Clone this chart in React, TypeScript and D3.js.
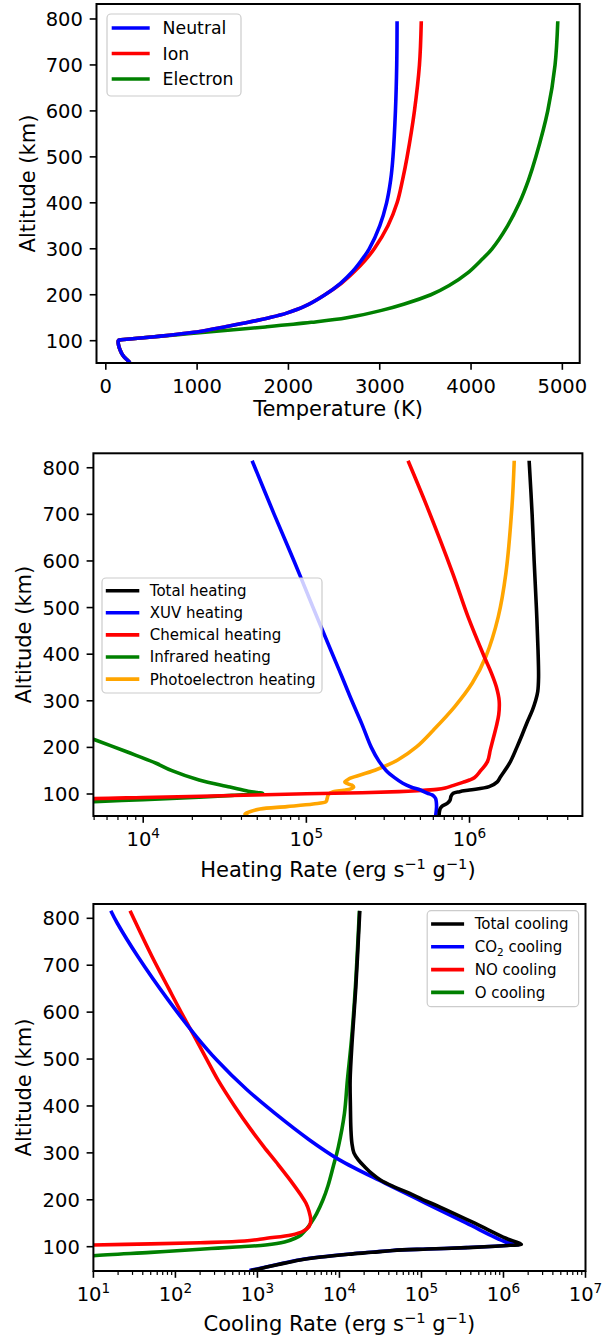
import * as React from 'react';
import * as d3 from 'd3';

type Pt = [number, number]; // [altitude (km), value]

// ---- panel 1: temperatures (K)
const neutralTemp: Pt[] = [
  [52, 265], [58, 235], [65, 200], [72, 175], [80, 156], [90, 140], [97, 135],
  [100, 137], [101.5, 150], [103, 230], [106, 380], [110, 600], [115, 830],
  [120, 1030], [130, 1300], [140, 1560], [150, 1790], [160, 1980], [175, 2180],
  [200, 2400], [225, 2570], [250, 2700], [275, 2800], [300, 2885], [350, 3000],
  [400, 3075], [450, 3120], [500, 3145], [600, 3172], [700, 3186], [795, 3190],
];
const ionTemp: Pt[] = [
  [52, 265], [58, 235], [65, 200], [72, 175], [80, 156], [90, 140], [97, 135],
  [100, 137], [101.5, 150], [103, 230], [106, 380], [110, 600], [115, 830],
  [120, 1030], [130, 1300], [140, 1560], [150, 1790], [160, 1980], [175, 2180],
  [200, 2400], [225, 2580], [250, 2720], [275, 2840], [300, 2940], [350, 3090],
  [400, 3190], [450, 3250], [500, 3300], [600, 3380], [700, 3435], [795, 3455],
];
const electronTemp: Pt[] = [
  [52, 265], [58, 235], [65, 200], [72, 175], [80, 156], [90, 140], [97, 135],
  [100, 137], [101.5, 150], [103, 230], [106, 380], [110, 610], [115, 900],
  [120, 1180], [130, 1750], [140, 2250], [150, 2640], [166, 3020], [180, 3270],
  [200, 3560], [220, 3760], [247, 3960], [275, 4110], [300, 4230], [350, 4400],
  [400, 4530], [450, 4630], [500, 4710], [600, 4840], [700, 4920], [795, 4950],
];

// ---- panel 2: heating rates (erg s-1 g-1)
const totalHeat: Pt[] = [
  [53, 6.5e5], [68, 6.6e5], [73, 6.75e5], [80, 7.3e5], [87, 7.6e5], [95, 7.7e5],
  [101.5, 7.95e5], [105, 8.7e5], [108.6, 1.0e6], [115.7, 1.32e6], [126, 1.48e6],
  [137, 1.55e6], [166, 1.76e6], [200, 1.95e6], [225, 2.09e6], [253, 2.25e6],
  [280, 2.43e6], [300, 2.54e6], [320, 2.62e6], [350, 2.65e6], [409, 2.63e6],
  [500, 2.57e6], [600, 2.49e6], [700, 2.42e6], [815, 2.32e6],
];
const xuvHeat: Pt[] = [
  [53, 6.2e5], [73, 6.28e5], [90, 6.2e5], [95, 6.05e5], [98, 5.9e5], [102, 5.5e5],
  [108.6, 5.0e5], [115, 4.37e5], [123, 3.9e5], [135, 3.47e5], [150, 3.09e5],
  [170, 2.79e5], [200, 2.5e5], [250, 2.19e5], [300, 1.9e5], [352, 1.65e5],
  [409, 1.41e5], [500, 1.1e5], [600, 8.4e4], [700, 6.35e4], [815, 4.65e4],
];
const chemHeat: Pt[] = [
  [80, 1e3], [90, 5e3], [92.4, 1e4], [96.2, 3e4], [100.4, 1e5], [102.8, 2.2e5],
  [105, 3.7e5], [107, 4.8e5], [110, 6.3e5], [113, 7.1e5], [118, 7.9e5],
  [125, 9.1e5], [130, 1.0e6], [135, 1.07e6], [150, 1.17e6], [170, 1.29e6],
  [194, 1.34e6], [220, 1.4e6], [245, 1.46e6], [270, 1.51e6], [300, 1.52e6],
  [330, 1.46e6], [360, 1.36e6], [395, 1.23e6], [480, 9.8e5], [573, 7.9e5],
  [716, 5.5e5], [815, 4.2e5],
];
const irHeat: Pt[] = [
  [76, 2e3], [83.5, 5e3], [88, 1.0e4], [93, 2.2e4], [97, 3.5e4], [100, 4.8e4],
  [101.5, 5.4e4], [103, 5.0e4], [106, 4.4e4], [115, 3.4e4], [130, 2.2e4],
  [150, 1.5e4], [166, 1.2e4], [190, 8e3], [217, 5e3], [240, 3.3e3],
];
const photoHeat: Pt[] = [
  [53, 4.4e4], [57, 4.2e4], [62, 4.5e4], [68, 5.2e4], [73, 7.6e4], [78.5, 1.1e5],
  [83.5, 1.32e5], [90, 1.34e5], [97.9, 1.36e5], [102, 1.4e5], [105, 1.46e5],
  [108, 1.7e5], [111, 1.87e5], [115, 1.95e5], [119, 1.9e5], [123, 1.76e5],
  [126, 1.72e5], [130, 1.78e5], [134, 1.86e5], [151, 2.63e5], [173, 3.63e5],
  [201, 4.73e5], [237, 6.0e5], [287, 8.1e5], [338, 1.04e6], [395, 1.26e6],
  [480, 1.5e6], [573, 1.67e6], [716, 1.82e6], [815, 1.88e6],
];

// ---- panel 3: cooling rates (erg s-1 g-1)
const totalCool: Pt[] = [
  [49, 8.3e2], [55, 1.2e3], [62, 1.8e3], [71.6, 3.3e3], [78, 6.0e3], [84, 1.3e4],
  [88, 2.5e4], [92, 4.5e4], [95, 1.2e5], [98, 3.6e5], [101, 8e5], [103, 1.2e6],
  [105, 1.65e6], [110, 1.42e6], [118, 1.07e6], [150, 4.47e5], [185, 1.66e5],
  [200, 1.05e5], [214, 7.1e4], [228, 4.57e4], [242, 3.16e4], [255, 2.51e4],
  [270, 2.04e4], [285, 1.7e4], [300, 1.5e4], [320, 1.42e4], [350, 1.38e4],
  [400, 1.36e4], [455, 1.35e4], [540, 1.43e4], [650, 1.58e4], [816, 1.77e4],
];
const co2Cool: Pt[] = [
  [49, 8.0e2], [55, 1.15e3], [62, 1.75e3], [71.6, 3.2e3], [78, 5.8e3], [84, 1.25e4],
  [88, 2.4e4], [92, 4.4e4], [95, 1.15e5], [98, 3.5e5], [101, 7.8e5], [103, 1.15e6],
  [105, 1.55e6], [110.7, 1.05e6], [150, 3.55e5], [192, 1.15e5], [235, 3.63e4],
  [285, 1.0e4], [328, 4.27e3], [384, 1.64e3], [435, 7.4e2], [498, 3.19e2],
  [548, 1.8e2], [626, 81.5], [718, 35], [790, 19.5], [816, 16.3],
];
const noCool: Pt[] = [
  [100, 3], [103.6, 10], [106, 50], [108.5, 200], [112, 700], [118, 1.3e3],
  [125, 2.6e3], [133, 3.6e3], [143, 4.27e3], [157, 4.47e3], [175, 4.27e3],
  [193, 3.9e3], [210, 3.39e3], [242, 2.51e3], [280, 1.7e3], [313, 1.2e3],
  [350, 8.3e2], [400, 5.25e2], [455, 3.31e2], [500, 2.4e2], [548, 1.71e2],
  [590, 1.26e2], [650, 83], [718, 52], [816, 28],
];
const oCool: Pt[] = [
  [75, 5], [80.8, 10], [88, 50], [94.4, 200], [97, 3.3e2], [100, 6.3e2],
  [103.6, 1.26e3], [110, 2.14e3], [118, 2.88e3], [125, 3.39e3], [136, 3.89e3],
  [150, 4.47e3], [170, 5.25e3], [200, 6.3e3], [230, 7.25e3], [271, 8.4e3],
  [313, 9.7e3], [384, 1.15e4], [455, 1.25e4], [540, 1.4e4], [650, 1.56e4],
  [816, 1.75e4],
];

// ---- ticks
const altTicks = [100, 200, 300, 400, 500, 600, 700, 800];
const tempTicks = [0, 1000, 2000, 3000, 4000, 5000];
const heatTicks = [1e4, 1e5, 1e6];
const coolTicks = [1e1, 1e2, 1e3, 1e4, 1e5, 1e6, 1e7];

const FONT = '"DejaVu Sans", sans-serif';
const TICK_FS = 19.5;
const LABEL_FS = 21;
const SUP_FS = 13.6;

interface Series { label: React.ReactNode; color: string; data: Pt[] }
interface LegendCfg {
  x: number; y: number; w: number; h: number;
  row0: number; rowStep: number; lineX: number; lineLen: number; textX: number; fs: number;
}
interface PanelProps {
  id: string;
  left: number; top: number; right: number; bottom: number;
  log: boolean;
  xDomain: [number, number];
  yDomain: [number, number];
  xTicks: number[];
  xLabel: React.ReactNode;
  xLabelDy: number;
  series: Series[];
  legend: LegendCfg;
}

function minorTicks(dom: [number, number]) {
  const out: number[] = [];
  const a = Math.floor(Math.log10(dom[0]));
  const b = Math.ceil(Math.log10(dom[1]));
  for (let e = a; e <= b; e++) {
    for (let k = 2; k <= 9; k++) {
      const v = k * Math.pow(10, e);
      if (v >= dom[0] && v <= dom[1]) out.push(v);
    }
  }
  return out;
}

function Panel(p: PanelProps) {
  const { left, top, right, bottom } = p;
  const x: (v: number) => number = p.log
    ? d3.scaleLog().domain(p.xDomain).range([left, right])
    : d3.scaleLinear().domain(p.xDomain).range([left, right]);
  const y = d3.scaleLinear().domain(p.yDomain).range([bottom, top]);
  const line = d3.line<Pt>().x((d) => x(d[1])).y((d) => y(d[0])).curve(d3.curveCatmullRom.alpha(0.5));
  const minors = p.log ? minorTicks(p.xDomain) : [];
  const clipId = `clip-${p.id}`;
  // legend order is the reverse of the drawing order
  const drawOrder = [...p.series].reverse();
  const lg = p.legend;

  return (
    <g>
      <defs>
        <clipPath id={clipId}>
          <rect x={left} y={top} width={right - left} height={bottom - top} />
        </clipPath>
      </defs>
      <g clipPath={`url(#${clipId})`}>
        {drawOrder.map((s, i) => (
          <path key={i} d={line(s.data) || ''} fill="none" stroke={s.color}
            strokeWidth={3.6} strokeLinejoin="round" strokeLinecap="butt" />
        ))}
      </g>
      <rect x={left} y={top} width={right - left} height={bottom - top}
        fill="none" stroke="#000" strokeWidth={2} />
      {/* y axis */}
      {altTicks.map((t) => (
        <g key={`y${t}`}>
          <line x1={left - 6.8} x2={left} y1={y(t)} y2={y(t)} stroke="#000" strokeWidth={1.6} />
          <text x={left - 13.6} y={y(t)} dy="0.36em" textAnchor="end" fontSize={TICK_FS}>{t}</text>
        </g>
      ))}
      <text transform={`translate(${left - 62},${(top + bottom) / 2}) rotate(-90)`}
        textAnchor="middle" fontSize={LABEL_FS}>Altitude (km)</text>
      {/* x axis */}
      {minors.map((t) => (
        <line key={`m${t}`} x1={x(t)} x2={x(t)} y1={bottom} y2={bottom + 3.9} stroke="#000" strokeWidth={1.2} />
      ))}
      {p.xTicks.map((t) => (
        <g key={`x${t}`}>
          <line x1={x(t)} x2={x(t)} y1={bottom} y2={bottom + 6.8} stroke="#000" strokeWidth={1.6} />
          {p.log ? (
            <text x={x(t)} y={bottom + 30} textAnchor="middle" fontSize={TICK_FS}>
              10<tspan fontSize={SUP_FS} dy={-8}>{Math.round(Math.log10(t))}</tspan>
            </text>
          ) : (
            <text x={x(t)} y={bottom + 30} textAnchor="middle" fontSize={TICK_FS}>{t}</text>
          )}
        </g>
      ))}
      <text x={(left + right) / 2} y={bottom + p.xLabelDy} textAnchor="middle" fontSize={LABEL_FS}>
        {p.xLabel}
      </text>
      {/* legend */}
      <rect x={lg.x} y={lg.y} width={lg.w} height={lg.h} rx={4} fill="#fff" fillOpacity={0.8}
        stroke="#cccccc" strokeWidth={1.2} />
      {p.series.map((s, i) => {
        const ry = lg.y + lg.row0 + i * lg.rowStep;
        return (
          <g key={`l${i}`}>
            <line x1={lg.x + lg.lineX} x2={lg.x + lg.lineX + lg.lineLen} y1={ry} y2={ry}
              stroke={s.color} strokeWidth={3.6} />
            <text x={lg.x + lg.textX} y={ry} dy="0.36em" fontSize={lg.fs}>{s.label}</text>
          </g>
        );
      })}
    </g>
  );
}

const rateLabel = (word: string) => (
  <>
    {`${word} Rate (erg s`}
    <tspan fontSize={SUP_FS + 1} dy={-8}>{'\u22121'}</tspan>
    <tspan dy={8}> g</tspan>
    <tspan fontSize={SUP_FS + 1} dy={-8}>{'\u22121'}</tspan>
    <tspan dy={8}>)</tspan>
  </>
);

export default function App() {
  return (
    <svg width={610} height={1341} fontFamily={FONT}
      style={{ position: 'absolute', left: 0, top: 0, background: '#fff' }}>
      <Panel id="temp" left={96.5} top={4} right={579.7} bottom={363}
        log={false} xDomain={[-102, 5190]} yDomain={[51.5, 832.6]}
        xTicks={tempTicks} xLabel="Temperature (K)" xLabelDy={53}
        series={[
          { label: 'Neutral', color: '#0000ff', data: neutralTemp },
          { label: 'Ion', color: '#ff0000', data: ionTemp },
          { label: 'Electron', color: '#008000', data: electronTemp },
        ]}
        legend={{ x: 107, y: 14, w: 134, h: 82, row0: 14, rowStep: 25.5, lineX: 4.7, lineLen: 38, textX: 55.6, fs: 17.3 }}
      />
      <Panel id="heat" left={93.4} top={453.3} right={582.4} bottom={816}
        log xDomain={[4.95e3, 4.92e6]} yDomain={[52.8, 831]}
        xTicks={heatTicks} xLabel={rateLabel('Heating')} xLabelDy={60.7}
        series={[
          { label: 'Total heating', color: '#000000', data: totalHeat },
          { label: 'XUV heating', color: '#0000ff', data: xuvHeat },
          { label: 'Chemical heating', color: '#ff0000', data: chemHeat },
          { label: 'Infrared heating', color: '#008000', data: irHeat },
          { label: 'Photoelectron heating', color: '#ffa500', data: photoHeat },
        ]}
        legend={{ x: 102, y: 578, w: 220, h: 115, row0: 12.7, rowStep: 22.1, lineX: 3.8, lineLen: 33.5, textX: 47.8, fs: 15 }}
      />
      <Panel id="cool" left={93.4} top={904} right={585.5} bottom={1271}
        log xDomain={[10, 1e7]} yDomain={[48.2, 830.5]}
        xTicks={coolTicks} xLabel={rateLabel('Cooling')} xLabelDy={59.7}
        series={[
          { label: 'Total cooling', color: '#000000', data: totalCool },
          { label: (<>CO<tspan fontSize={10.5} dy={4}>2</tspan><tspan dy={-4}> cooling</tspan></>), color: '#0000ff', data: co2Cool },
          { label: 'NO cooling', color: '#ff0000', data: noCool },
          { label: 'O cooling', color: '#008000', data: oCool },
        ]}
        legend={{ x: 427.2, y: 910.7, w: 151.4, h: 96, row0: 13.3, rowStep: 22.8, lineX: 3.9, lineLen: 33, textX: 47.5, fs: 15 }}
      />
    </svg>
  );
}
